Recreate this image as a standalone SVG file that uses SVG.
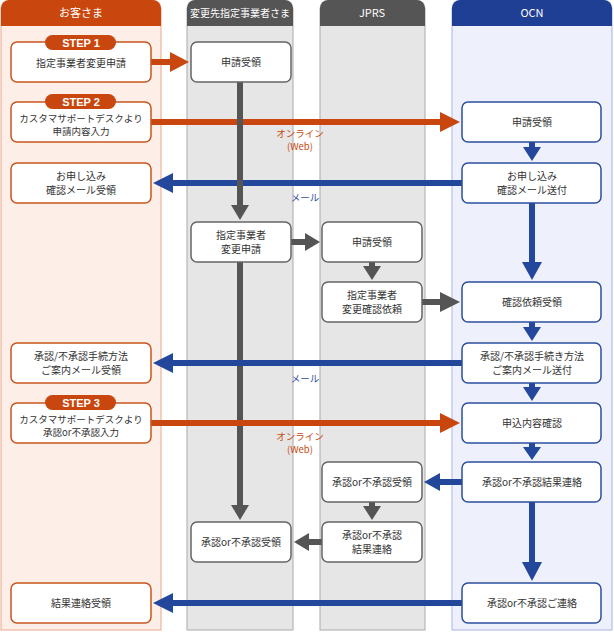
<svg xmlns="http://www.w3.org/2000/svg" width="614" height="632" viewBox="0 0 614 632">
<style>
text{font-family:"Noto Sans CJK JP","Liberation Sans",sans-serif;font-size:10px;text-anchor:middle;fill:#333}
.h{fill:#fff;font-size:11px}
.h2{fill:#fff;font-size:10px}
.c{fill:#fff;stroke:#c9541e;stroke-width:1.5}
.g{fill:#fff;stroke:#666;stroke-width:1.5}
.b{fill:#fff;stroke:#2d4fa0;stroke-width:1.5}
.badge{fill:#c9470f}
.bt{fill:#fff;font-family:"Liberation Sans",sans-serif;font-weight:bold;font-size:11px}
.sm{font-size:9.5px}
.lo{fill:#c9470f;font-size:9.5px}
.lb{fill:#2d4fa0;font-size:9.5px}
.ao{stroke:#c9470f;stroke-width:6;fill:none}.ho{fill:#c9470f}
.ab{stroke:#23479a;stroke-width:6;fill:none}.hb{fill:#23479a}
.ag{stroke:#555;stroke-width:6;fill:none}.hg{fill:#555}
</style>
<rect width="614" height="632" fill="#fff"/>
<g id="lanes">
<rect x="1" y="8" width="160" height="622" fill="#fdeee8" stroke="#e8a88c"/>
<path d="M1 26V8a8 8 0 0 1 8-8h144a8 8 0 0 1 8 8v18z" fill="#c9470f"/>
<text x="81" y="17" class="h">お客さま</text>
<rect x="187" y="8" width="106" height="622" fill="#e6e6e6" stroke="#aaa"/>
<path d="M187 26V8a8 8 0 0 1 8-8h90a8 8 0 0 1 8 8v18z" fill="#555"/>
<text x="240" y="17" class="h2">変更先指定事業者さま</text>
<rect x="320" y="8" width="105" height="622" fill="#e6e6e6" stroke="#aaa"/>
<path d="M320 26V8a8 8 0 0 1 8-8h89a8 8 0 0 1 8 8v18z" fill="#555"/>
<text x="372" y="17" class="h">JPRS</text>
<rect x="452" y="8" width="160" height="622" fill="#eef0fb" stroke="#aab3e6"/>
<path d="M452 26V8a8 8 0 0 1 8-8h144a8 8 0 0 1 8 8v18z" fill="#1f3f95"/>
<text x="532" y="17" class="h">OCN</text>
</g>
<g id="connectors">
<path class="ao" d="M151 62H172"/><polygon class="ho" points="170,52 189,62 170,72"/>
<path class="ao" d="M151 122H442"/><polygon class="ho" points="440,112 460,122 440,132"/>
<text x="300" y="137" class="lo">オンライン</text><text x="300" y="150" class="lo">(Web)</text>
<path class="ab" d="M462 183H172"/><polygon class="hb" points="173,173 153,183 173,193"/>
<text x="305" y="201" class="lb">メール</text>
<path class="ag" d="M240 82V206"/><polygon class="hg" points="231,205 240,220 249,205"/>
<path class="ag" d="M240 262V506"/><polygon class="hg" points="231,505 240,520 249,505"/>
<path class="ag" d="M291 242H306"/><polygon class="hg" points="305,233 320,242 305,251"/>
<path class="ag" d="M372 262V268"/><polygon class="hg" points="363,266 372,280 381,266"/>
<path class="ag" d="M422 302H442"/><polygon class="hg" points="440,292 460,302 440,312"/>
<path class="ab" d="M532 142V148"/><polygon class="hb" points="523,147 532,161 541,147"/>
<path class="ab" d="M532 203V264"/><polygon class="hb" points="522,262 532,280 542,262"/>
<path class="ab" d="M532 322V328"/><polygon class="hb" points="523,327 532,341 541,327"/>
<path class="ab" d="M462 363H172"/><polygon class="hb" points="173,353 153,363 173,373"/>
<text x="305" y="382" class="lb">メール</text>
<path class="ab" d="M532 383V388"/><polygon class="hb" points="523,387 532,401 541,387"/>
<path class="ao" d="M151 423H442"/><polygon class="ho" points="440,413 460,423 440,433"/>
<text x="300" y="440" class="lo">オンライン</text><text x="300" y="453" class="lo">(Web)</text>
<path class="ab" d="M532 443V448"/><polygon class="hb" points="523,447 532,460 541,447"/>
<path class="ab" d="M462 482H438"/><polygon class="hb" points="440,473 424,482 440,491"/>
<path class="ag" d="M372 502V508"/><polygon class="hg" points="363,506 372,520 381,506"/>
<path class="ag" d="M322 542H308"/><polygon class="hg" points="309,533 294,542 309,551"/>
<path class="ab" d="M532 502V564"/><polygon class="hb" points="522,562 532,581 542,562"/>
<path class="ab" d="M462 603H172"/><polygon class="hb" points="173,593 153,603 173,613"/>
</g>
<g id="c1"><rect class="c" x="11" y="42" width="140" height="40" rx="6"/><rect class="badge" x="45" y="35" width="71" height="15" rx="7.5"/><text x="81" y="46.5" class="bt">STEP 1</text><text x="81" y="67">指定事業者変更申請</text></g>
<g id="c2"><rect class="c" x="11" y="102" width="140" height="40" rx="6"/><rect class="badge" x="45" y="94" width="71" height="15" rx="7.5"/><text x="81" y="105.5" class="bt">STEP 2</text><text x="81" y="122" class="sm">カスタマサポートデスクより</text><text x="81" y="135" class="sm">申請内容入力</text></g>
<g id="c3"><rect class="c" x="11" y="163" width="140" height="40" rx="6"/><text x="81" y="180">お申し込み</text><text x="81" y="194">確認メール受領</text></g>
<g id="c4"><rect class="c" x="11" y="343" width="140" height="40" rx="6"/><text x="81" y="360">承認/不承認手続方法</text><text x="81" y="374">ご案内メール受領</text></g>
<g id="c5"><rect class="c" x="11" y="403" width="140" height="40" rx="6"/><rect class="badge" x="45" y="395" width="71" height="15" rx="7.5"/><text x="81" y="406.5" class="bt">STEP 3</text><text x="81" y="423" class="sm">カスタマサポートデスクより</text><text x="81" y="436" class="sm">承認or不承認入力</text></g>
<g id="c6"><rect class="c" x="11" y="583" width="140" height="40" rx="6"/><text x="81" y="607">結果連絡受領</text></g>
<g id="r1"><rect class="g" x="191" y="42" width="100" height="40" rx="6"/><text x="241" y="66">申請受領</text></g>
<g id="r2"><rect class="g" x="191" y="222" width="100" height="40" rx="6"/><text x="241" y="239">指定事業者</text><text x="241" y="253">変更申請</text></g>
<g id="r3"><rect class="g" x="191" y="522" width="100" height="40" rx="6"/><text x="241" y="546">承認or不承認受領</text></g>
<g id="j1"><rect class="g" x="322" y="222" width="100" height="40" rx="6"/><text x="372" y="246">申請受領</text></g>
<g id="j2"><rect class="g" x="322" y="282" width="100" height="40" rx="6"/><text x="372" y="299">指定事業者</text><text x="372" y="313">変更確認依頼</text></g>
<g id="j3"><rect class="g" x="322" y="462" width="100" height="40" rx="6"/><text x="372" y="486">承認or不承認受領</text></g>
<g id="j4"><rect class="g" x="322" y="522" width="100" height="40" rx="6"/><text x="372" y="539">承認or不承認</text><text x="372" y="553">結果連絡</text></g>
<g id="o1"><rect class="b" x="462" y="102" width="139" height="40" rx="6"/><text x="532" y="126">申請受領</text></g>
<g id="o2"><rect class="b" x="462" y="163" width="139" height="40" rx="6"/><text x="532" y="180">お申し込み</text><text x="532" y="194">確認メール送付</text></g>
<g id="o3"><rect class="b" x="462" y="282" width="139" height="40" rx="6"/><text x="532" y="306">確認依頼受領</text></g>
<g id="o4"><rect class="b" x="462" y="343" width="139" height="40" rx="6"/><text x="532" y="360">承認/不承認手続き方法</text><text x="532" y="374">ご案内メール送付</text></g>
<g id="o5"><rect class="b" x="462" y="403" width="139" height="40" rx="6"/><text x="532" y="427">申込内容確認</text></g>
<g id="o6"><rect class="b" x="462" y="462" width="139" height="40" rx="6"/><text x="532" y="486">承認or不承認結果連絡</text></g>
<g id="o7"><rect class="b" x="462" y="583" width="139" height="40" rx="6"/><text x="532" y="607">承認or不承認ご連絡</text></g>
</svg>
